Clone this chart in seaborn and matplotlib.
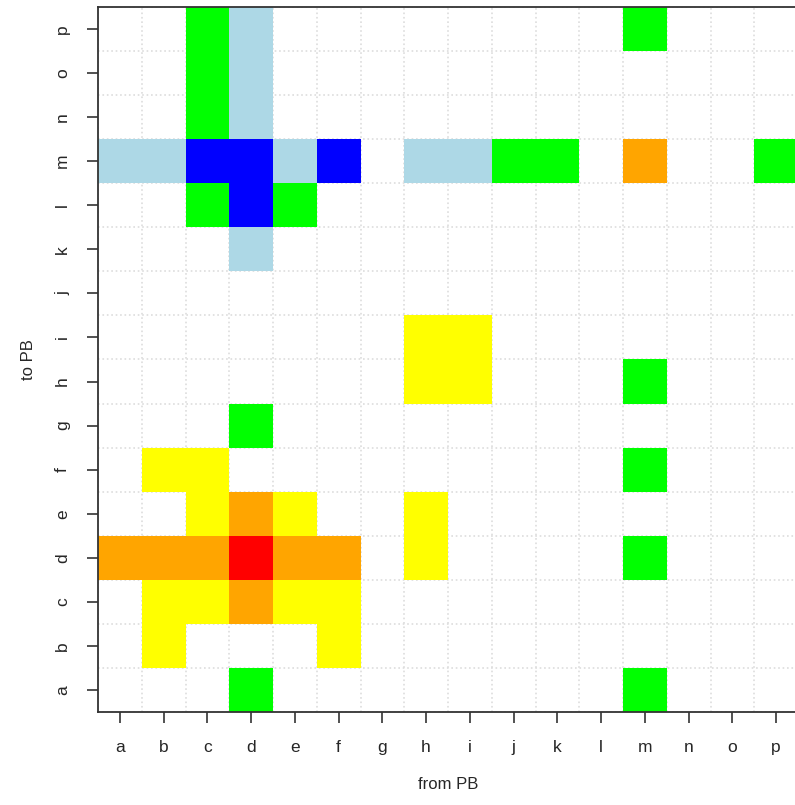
import numpy as np
import pandas as pd
import seaborn as sns
import matplotlib
matplotlib.use("Agg")
import matplotlib.pyplot as plt
from matplotlib.colors import ListedColormap, BoundaryNorm

letters = list("abcdefghijklmnop")
# level codes: 0 none, 1 lightblue, 2 blue, 3 green, 4 yellow, 5 orange, 6 red
level_colors = ["#ADD8E6", "#0000FF", "#00FF00", "#FFFF00", "#FFA500", "#FF0000"]

#          a  b  c  d  e  f  g  h  i  j  k  l  m  n  o  p
to_p = [0, 0, 3, 1, 0, 0, 0, 0, 0, 0, 0, 0, 3, 0, 0, 0]
to_o = [0, 0, 3, 1, 0, 0, 0, 0, 0, 0, 0, 0, 0, 0, 0, 0]
to_n = [0, 0, 3, 1, 0, 0, 0, 0, 0, 0, 0, 0, 0, 0, 0, 0]
to_m = [1, 1, 2, 2, 1, 2, 0, 1, 1, 3, 3, 0, 5, 0, 0, 3]
to_l = [0, 0, 3, 2, 3, 0, 0, 0, 0, 0, 0, 0, 0, 0, 0, 0]
to_k = [0, 0, 0, 1, 0, 0, 0, 0, 0, 0, 0, 0, 0, 0, 0, 0]
to_j = [0, 0, 0, 0, 0, 0, 0, 0, 0, 0, 0, 0, 0, 0, 0, 0]
to_i = [0, 0, 0, 0, 0, 0, 0, 4, 4, 0, 0, 0, 0, 0, 0, 0]
to_h = [0, 0, 0, 0, 0, 0, 0, 4, 4, 0, 0, 0, 3, 0, 0, 0]
to_g = [0, 0, 0, 3, 0, 0, 0, 0, 0, 0, 0, 0, 0, 0, 0, 0]
to_f = [0, 4, 4, 0, 0, 0, 0, 0, 0, 0, 0, 0, 3, 0, 0, 0]
to_e = [0, 0, 4, 5, 4, 0, 0, 4, 0, 0, 0, 0, 0, 0, 0, 0]
to_d = [5, 5, 5, 6, 5, 5, 0, 4, 0, 0, 0, 0, 3, 0, 0, 0]
to_c = [0, 4, 4, 5, 4, 4, 0, 0, 0, 0, 0, 0, 0, 0, 0, 0]
to_b = [0, 4, 0, 0, 0, 4, 0, 0, 0, 0, 0, 0, 0, 0, 0, 0]
to_a = [0, 0, 0, 3, 0, 0, 0, 0, 0, 0, 0, 0, 3, 0, 0, 0]

rows_top_down = [to_p, to_o, to_n, to_m, to_l, to_k, to_j, to_i,
                 to_h, to_g, to_f, to_e, to_d, to_c, to_b, to_a]
df = pd.DataFrame(rows_top_down, index=letters[::-1], columns=letters).astype(float)
mask = df == 0

sns.set_style("white")
plt.rcParams['font.family'] = ['Liberation Sans', 'DejaVu Sans']

fig = plt.figure(figsize=(7.95, 8.05), dpi=100)
ax = fig.add_axes([98/795, 93/805, 700/795, 705/805])

cmap = ListedColormap(level_colors)
norm = BoundaryNorm(np.arange(0.5, 7.5, 1), cmap.N)
sns.heatmap(df, mask=mask, cmap=cmap, norm=norm, cbar=False, ax=ax,
            linewidths=0, square=False)

# dotted grid at cell boundaries
ax.set_axisbelow(True)
ax.set_xticks(np.arange(0, 17), minor=True)
ax.set_yticks(np.arange(0, 17), minor=True)
ax.grid(which='minor', color='#DDDDDD', linestyle=':', linewidth=1.2)
ax.grid(which='major', visible=False)
ax.tick_params(which='minor', length=0)

ax.set_xticks(np.arange(16) + 0.5)
ax.set_xticklabels(letters, rotation=0)
ax.set_yticks(np.arange(16) + 0.5)
ax.set_yticklabels(letters[::-1], rotation=90, va='center')
ax.tick_params(which='major', axis='both', length=8, width=1.2, color='#333333',
               labelsize=12.5, pad=12, direction='out', bottom=True, left=True)

for s in ['left', 'bottom', 'top', 'right']:
    ax.spines[s].set_visible(True)
    ax.spines[s].set_color('#333333')
    ax.spines[s].set_linewidth(1.3)

ax.set_xlabel("from PB", fontsize=12, labelpad=16)
ax.set_ylabel("to PB", fontsize=12, labelpad=14)

fig.savefig("out.png", dpi=100)
